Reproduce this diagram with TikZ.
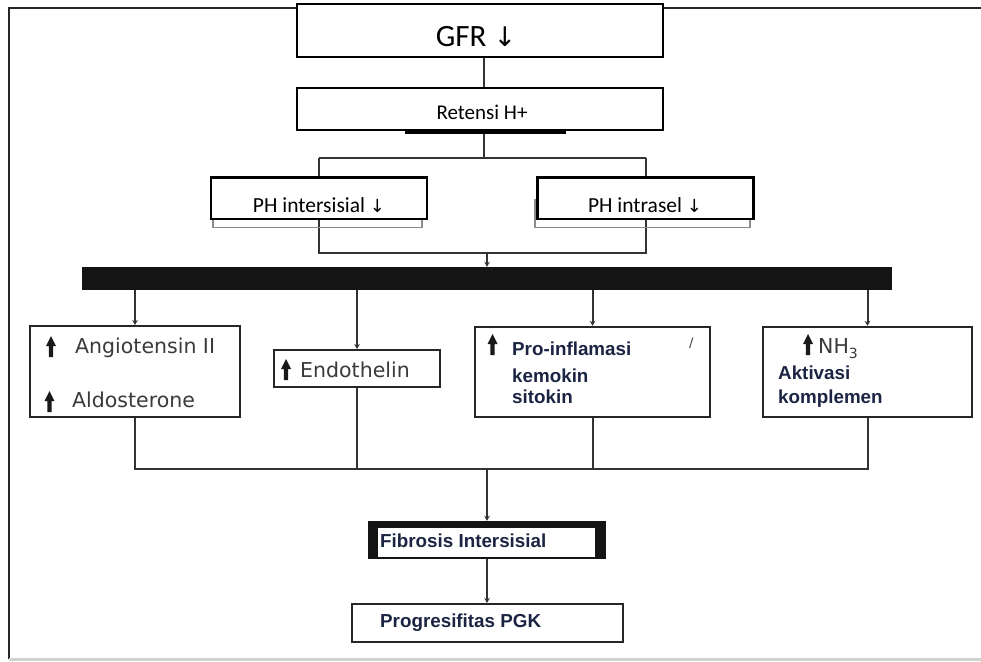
\documentclass[tikz,border=0pt]{standalone}
\usepackage{fontspec}
\setmainfont{Carlito}
\newfontfamily\dvsans{DejaVu Sans}
\newfontfamily\lsans{Liberation Sans}
\usetikzlibrary{arrows.meta,backgrounds}
\definecolor{inkblue}{RGB}{28,36,68}
\definecolor{softgray}{RGB}{58,58,58}
\begin{document}
\begin{tikzpicture}[x=1pt,y=-1pt,
  box/.style={draw=black, line width=2pt, fill=white, inner sep=0pt, rectangle},
  lowbox/.style={draw=black!85, line width=2pt, fill=white, inner sep=0pt, rectangle},
  conn/.style={draw=black!80, line width=2pt},
  arr/.style={conn, -{Stealth[length=5pt,width=5.5pt]}},
  lbl/.style={inner sep=0pt, anchor=base west},
  reg/.style={lbl, text=softgray, font=\dvsans\fontsize{20.5}{24}\selectfont},
  bld/.style={lbl, text=inkblue, font=\lsans\bfseries\fontsize{18.8}{22}\selectfont},
  uparrow/.pic={\fill[black!90] (-2.2,0) -- (-2.2,-11) -- (-5,-11) -- (0,-21) -- (5,-11) -- (2.2,-11) -- (2.2,0) -- cycle;}
]
\useasboundingbox (0,0) rectangle (981,661);

% top part of the chain
\node[box, minimum width=366pt, minimum height=53pt] (gfr) at (480,30.5) {};
\fill[black] (405,129) rectangle (566,133.5);
\node[box, minimum width=366pt, minimum height=42.5pt] (ret) at (480,108.75) {};

% the two pH boxes with their offset back frames
\draw[black!45, line width=1.5pt] (213,200) rectangle (422,227.5);
\draw[black!45, line width=1.5pt] (535,200) rectangle (750,227.5);
\node[box, line width=2.4pt, minimum width=216pt, minimum height=41.5pt] (ph1) at (319,198.25) {};
\node[box, line width=2.4pt, minimum width=216pt, minimum height=41.5pt] (ph2) at (645.5,198.25) {};

% distribution bar
\node[fill=black!92, inner sep=0pt, minimum width=810pt, minimum height=23pt] (bar) at (487,278.5) {};

% mediator boxes
\node[lowbox, minimum width=210pt, minimum height=91pt] (b1) at (135,371.5) {};
\node[lowbox, minimum width=166pt, minimum height=37pt] (b2) at (357,368.5) {};
\node[lowbox, line width=2.4pt, minimum width=235pt, minimum height=90pt] (b3) at (592.5,372) {};
\node[lowbox, line width=2.4pt, minimum width=209pt, minimum height=90pt] (b4) at (867.5,372) {};

% outcome boxes
\node[fill=black!92, inner sep=0pt, minimum width=238pt, minimum height=38pt] (fib) at (487,540) {};
\node[fill=white, inner sep=0pt, minimum width=217pt, minimum height=29pt] (fibin) at (486.5,542.5) {};
\node[lowbox, minimum width=271pt, minimum height=38pt] (prog) at (487.5,623) {};

% labels
\node[anchor=base, inner sep=0pt, font=\fontsize{31}{34}\selectfont] (tgfr) at (476,46) {GFR {\dvsans\fontsize{27}{27}\selectfont ↓}};
\node[anchor=base, inner sep=0pt, font=\fontsize{21}{24}\selectfont] (tret) at (482,119) {Retensi H+};
\node[anchor=base, inner sep=0pt, font=\fontsize{21.5}{24}\selectfont] (tph1) at (319,212) {PH intersisial {\dvsans\fontsize{18}{18}\selectfont ↓}};
\node[anchor=base, inner sep=0pt, font=\fontsize{21.5}{24}\selectfont] (tph2) at (645,212) {PH intrasel {\dvsans\fontsize{18}{18}\selectfont ↓}};

\pic at (51,357) {uparrow};
\node[reg] (tang) at (75,353) {Angiotensin II};
\pic at (49.5,412) {uparrow};
\node[reg] (tald) at (72,407) {Aldosterone};

\pic at (286,380) {uparrow};
\node[reg] (tend) at (300,377) {Endothelin};

\pic at (492.5,355) {uparrow};
\node[bld] (tpro) at (512,355) {Pro-inflamasi};
\node[bld] (tkem) at (512,382) {kemokin};
\node[bld] (tsit) at (512,403) {sitokin};
\node[reg, font=\dvsans\fontsize{13}{13}\selectfont] (tmark) at (689,347) {/};

\pic at (808,355) {uparrow};
\node[reg] (tnh) at (818,353) {NH\raisebox{-5pt}{\fontsize{14}{14}\selectfont 3}};
\node[bld] (takt) at (778,379) {Aktivasi};
\node[bld] (tkom) at (778,403) {komplemen};

\node[bld] (tfib) at (380,547) {Fibrosis Intersisial};
\node[bld] (tprog) at (380,627) {Progresifitas PGK};

% frame and connectors behind the boxes
\begin{scope}[on background layer]
  \draw[black!85, line width=2.5pt] (9,659) -- (9,8) -- (981,8);
  \draw[black!18, line width=3pt] (9,659.5) -- (981,659.5);

  \coordinate (s1) at (484,158);
  \coordinate (s2) at (487,252.5);
  \coordinate (s3) at (487,469);

  \draw[conn] (gfr.south -| s1) -- (ret.north -| s1);
  \draw[conn] (ret.south -| s1) -- (s1);
  \draw[conn] (ph1.center |- s1) -- (ph2.center |- s1);
  \draw[conn] (ph1.center |- s1) -- (ph1.center |- s2) -- (ph2.center |- s2) -- (ph2.center |- s1);
  \draw[arr] (s2) -- (bar.north -| s2);

  \draw[arr] (bar.south -| b1.north) -- (b1.north);
  \draw[arr] (bar.south -| b2.north) -- (b2.north);
  \draw[arr] (bar.south -| b3.north) -- (b3.north);
  \draw[arr] (bar.south -| b4.north) -- (b4.north);

  \draw[conn] (b1.south) -- (b1.south |- s3) -- (b4.south |- s3) -- (b4.south);
  \draw[conn] (b2.south) -- (b2.south |- s3);
  \draw[conn] (b3.south) -- (b3.south |- s3);
  \draw[arr] (s3) -- (fib.north -| s3);
  \draw[arr] (fib.south -| s3) -- (prog.north -| s3);
\end{scope}
\end{tikzpicture}
\end{document}
